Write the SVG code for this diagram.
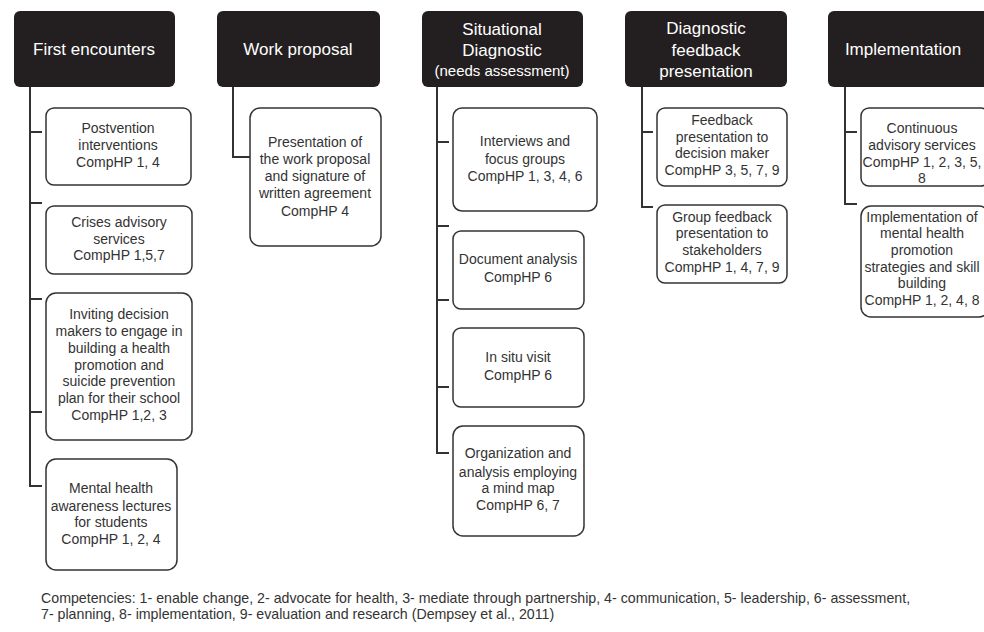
<svg xmlns="http://www.w3.org/2000/svg" width="984" height="632" viewBox="0 0 984 632">
  <style>
    .hdr rect { fill: #231f20; }
    .hdr text { fill: #ffffff; font-family: "Liberation Sans", Arial, sans-serif; font-size: 17px; text-anchor: middle; }
    .hdr text.sm { font-size: 15px; }
    .box rect { fill: #ffffff; stroke: #333333; stroke-width: 1.5; }
    .box text { fill: #333333; font-family: "Liberation Sans", Arial, sans-serif; font-size: 14px; text-anchor: middle; }
    .conn path { fill: none; stroke: #333333; stroke-width: 2; }
    .note { fill: #333333; font-family: "Liberation Sans", Arial, sans-serif; font-size: 14.2px; }
  </style>
  <rect width="984" height="632" fill="#ffffff"/>

  <!-- connectors: one trunk per phase, short spurs to each activity -->
  <g id="connectors" class="conn">
    <path d="M30 87 V486 H42 M30 132 H42 M30 203 H42 M30 299 H42 M30 412 H42"/>
    <path d="M233 87 V157 H250"/>
    <path d="M437 87 V453 H449 M437 142 H449 M437 226 H449 M437 300 H449 M437 387 H449"/>
    <path d="M642 87 V207 H653 M642 132 H653"/>
    <path d="M845 87 V204 H857 M845 132 H857"/>
  </g>

  <!-- phase headers -->
  <g id="h-first" class="hdr">
    <rect x="14" y="11" width="161" height="76" rx="6"/>
    <text x="94" y="55">First encounters</text>
  </g>
  <g id="h-work" class="hdr">
    <rect x="217" y="11" width="163" height="76" rx="6"/>
    <text x="298" y="55">Work proposal</text>
  </g>
  <g id="h-situ" class="hdr">
    <rect x="422" y="11" width="161" height="76" rx="6"/>
    <text x="502" y="35">Situational</text>
    <text x="502" y="56">Diagnostic</text>
    <text class="sm" x="502" y="76">(needs assessment)</text>
  </g>
  <g id="h-feedback" class="hdr">
    <rect x="625" y="11" width="162" height="76" rx="6"/>
    <text x="706" y="34">Diagnostic</text>
    <text x="706" y="56">feedback</text>
    <text x="706" y="77">presentation</text>
  </g>
  <g id="h-impl" class="hdr">
    <rect x="828" y="11" width="164" height="76" rx="6"/>
    <text x="903" y="55">Implementation</text>
  </g>

  <!-- First encounters -->
  <g id="n-postvention" class="box">
    <rect x="46" y="108" width="145" height="77" rx="8"/>
    <text x="118" y="133">Postvention</text>
    <text x="118" y="150">interventions</text>
    <text x="118" y="167">CompHP 1, 4</text>
  </g>
  <g id="n-crises" class="box">
    <rect x="46" y="206" width="146" height="68" rx="8"/>
    <text x="119" y="227">Crises advisory</text>
    <text x="119" y="244">services</text>
    <text x="119" y="260">CompHP 1,5,7</text>
  </g>
  <g id="n-inviting" class="box">
    <rect x="46" y="293" width="146" height="147" rx="10"/>
    <text x="119" y="319">Inviting decision</text>
    <text x="119" y="336">makers to engage in</text>
    <text x="119" y="353">building a health</text>
    <text x="119" y="370">promotion and</text>
    <text x="119" y="386">suicide prevention</text>
    <text x="119" y="403">plan for their school</text>
    <text x="119" y="420">CompHP 1,2, 3</text>
  </g>
  <g id="n-lectures" class="box">
    <rect x="46" y="459" width="131" height="111" rx="10"/>
    <text x="111" y="493">Mental health</text>
    <text x="111" y="511">awareness lectures</text>
    <text x="111" y="527">for students</text>
    <text x="111" y="544">CompHP 1, 2, 4</text>
  </g>

  <!-- Work proposal -->
  <g id="n-presentation" class="box">
    <rect x="250" y="108" width="131" height="138" rx="10"/>
    <text x="315" y="147">Presentation of</text>
    <text x="315" y="164">the work proposal</text>
    <text x="315" y="181">and signature of</text>
    <text x="315" y="198">written agreement</text>
    <text x="315" y="216">CompHP 4</text>
  </g>

  <!-- Situational diagnostic -->
  <g id="n-interviews" class="box">
    <rect x="453" y="108" width="144" height="103" rx="9"/>
    <text x="525" y="146">Interviews and</text>
    <text x="525" y="164">focus groups</text>
    <text x="525" y="181">CompHP 1, 3, 4, 6</text>
  </g>
  <g id="n-document" class="box">
    <rect x="453" y="231" width="131" height="78" rx="8"/>
    <text x="518" y="264">Document analysis</text>
    <text x="518" y="282">CompHP 6</text>
  </g>
  <g id="n-insitu" class="box">
    <rect x="453" y="328" width="131" height="79" rx="8"/>
    <text x="518" y="362">In situ visit</text>
    <text x="518" y="380">CompHP 6</text>
  </g>
  <g id="n-mindmap" class="box">
    <rect x="453" y="426" width="131" height="110" rx="10"/>
    <text x="518" y="458">Organization and</text>
    <text x="518" y="477">analysis employing</text>
    <text x="518" y="493">a mind map</text>
    <text x="518" y="510">CompHP 6, 7</text>
  </g>

  <!-- Diagnostic feedback presentation -->
  <g id="n-fb-decision" class="box">
    <rect x="657" y="108" width="130" height="78" rx="8"/>
    <text x="722" y="125">Feedback</text>
    <text x="722" y="142">presentation to</text>
    <text x="722" y="158">decision maker</text>
    <text x="722" y="175">CompHP 3, 5, 7, 9</text>
  </g>
  <g id="n-fb-group" class="box">
    <rect x="657" y="205" width="130" height="78" rx="8"/>
    <text x="722" y="222">Group feedback</text>
    <text x="722" y="238">presentation to</text>
    <text x="722" y="255">stakeholders</text>
    <text x="722" y="272">CompHP 1, 4, 7, 9</text>
  </g>

  <!-- Implementation -->
  <g id="n-advisory" class="box">
    <rect x="861" y="108" width="128" height="78" rx="8"/>
    <text x="922" y="133">Continuous</text>
    <text x="922" y="150">advisory services</text>
    <text x="922" y="167">CompHP 1, 2, 3, 5,</text>
    <text x="922" y="183">8</text>
  </g>
  <g id="n-strategies" class="box">
    <rect x="861" y="206" width="128" height="111" rx="10"/>
    <text x="922" y="222">Implementation of</text>
    <text x="922" y="238">mental health</text>
    <text x="922" y="255">promotion</text>
    <text x="922" y="272">strategies and skill</text>
    <text x="922" y="288">building</text>
    <text x="922" y="305">CompHP 1, 2, 4, 8</text>
  </g>

  <!-- legend -->
  <text class="note" x="41" y="603">Competencies: 1- enable change, 2- advocate for health, 3- mediate through partnership, 4- communication, 5- leadership, 6- assessment,</text>
  <text class="note" x="41" y="619">7- planning, 8- implementation, 9- evaluation and research (Dempsey et al., 2011)</text>
</svg>
